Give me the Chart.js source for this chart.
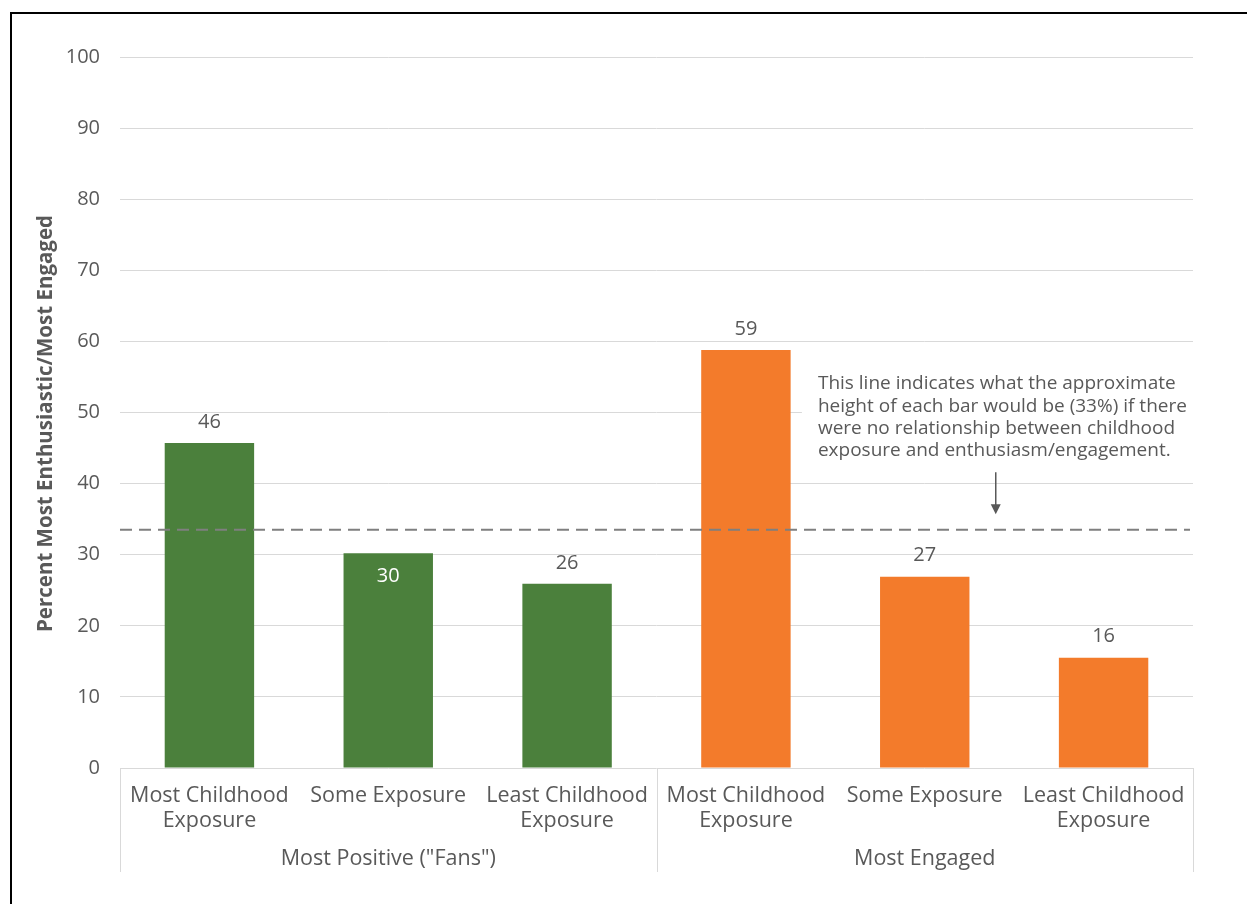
<!DOCTYPE html>
<html>
<head>
<meta charset="utf-8">
<script src="https://cdn.jsdelivr.net/npm/chart.js@4"></script>
<style>
  html, body { margin: 0; padding: 0; background: #ffffff; }
  #wrap { position: relative; width: 1247px; height: 904px; overflow: hidden; }
  #frame { position: absolute; left: 10px; top: 12px; width: 1400px; height: 1000px;
           border-left: 2px solid #000; border-top: 2px solid #000; }
  #c { position: absolute; left: 0; top: 0; }
</style>
</head>
<body>
<div id="wrap">
  <div id="frame"></div>
  <canvas id="c" width="1247" height="904"></canvas>
</div>
<script>
// ---- data ----
const categories = [
  ["Most Childhood", "Exposure"],
  ["Some Exposure"],
  ["Least Childhood", "Exposure"],
  ["Most Childhood", "Exposure"],
  ["Some Exposure"],
  ["Least Childhood", "Exposure"]
];
const groupLabels = ['Most Positive ("Fans")', 'Most Engaged'];
const barGroup = [0, 0, 0, 1, 1, 1];
const values = [45.7, 30.2, 25.9, 58.8, 26.9, 15.5];
const valueLabels = ["46", "30", "26", "59", "27", "16"];
const insideLabelIndex = [1];
const referenceValue = 33.5;
const yTicks = [0, 10, 20, 30, 40, 50, 60, 70, 80, 90, 100];
const yTitle = "Percent Most Enthusiastic/Most Engaged";
const annotationLines = [
  "This line indicates what the approximate",
  "height of each bar would be (33%) if there",
  "were no relationship between childhood",
  "exposure and enthusiasm/engagement."
];
const groupColors = ["#4B803C", "#F37B2B"];

const FONT = "'Open Sans', sans-serif";
const TEXT = "#595959";
const GRID = "#d9d9d9";

const overlay = {
  id: "overlay",
  afterDatasetsDraw(chart) {
    const ctx = chart.ctx;
    const ca = chart.chartArea;
    const y = chart.scales.y;
    const x = chart.scales.x;
    ctx.save();

    // y axis title
    ctx.save();
    ctx.translate(46, (ca.top + ca.bottom) / 2 + 11);
    ctx.rotate(-Math.PI / 2);
    ctx.fillStyle = TEXT;
    ctx.font = "bold 20.5px " + FONT;
    ctx.textAlign = "center";
    ctx.textBaseline = "middle";
    ctx.fillText(yTitle, 0, 0);
    ctx.restore();

    // annotation white box (hides gridline behind text)
    const textX = x.getPixelForValue(3) + 72;
    const firstLineY = y.getPixelForValue(54.0);
    const lh = 22.2;
    ctx.fillStyle = "#ffffff";
    ctx.fillRect(textX - 16, firstLineY - 18, ca.right - (textX - 16) + 4, lh * 4 + 10);

    // reference dashed line
    const ry = y.getPixelForValue(referenceValue);
    ctx.strokeStyle = "#7f7f7f";
    ctx.lineWidth = 2;
    ctx.setLineDash([12, 7]);
    ctx.beginPath();
    ctx.moveTo(ca.left, ry);
    ctx.lineTo(ca.right - 3, ry);
    ctx.stroke();
    ctx.setLineDash([]);

    // annotation text
    ctx.fillStyle = TEXT;
    ctx.font = "19px " + FONT;
    ctx.textAlign = "left";
    ctx.textBaseline = "middle";
    annotationLines.forEach((t, i) => ctx.fillText(t, textX, firstLineY + i * lh));

    // arrow
    const ax = x.getPixelForValue(4) + 71;
    const ay1 = y.getPixelForValue(41.6);
    const ay2 = y.getPixelForValue(35.7);
    ctx.strokeStyle = TEXT;
    ctx.lineWidth = 1.5;
    ctx.beginPath();
    ctx.moveTo(ax, ay1);
    ctx.lineTo(ax, ay2 - 8);
    ctx.stroke();
    ctx.beginPath();
    ctx.moveTo(ax - 5, ay2 - 10);
    ctx.lineTo(ax + 5, ay2 - 10);
    ctx.lineTo(ax, ay2);
    ctx.closePath();
    ctx.fill();

    // value labels
    const meta = chart.getDatasetMeta(0);
    ctx.font = "20px " + FONT;
    ctx.textAlign = "center";
    meta.data.forEach((bar, i) => {
      ctx.textBaseline = "middle";
      if (insideLabelIndex.includes(i)) {
        ctx.fillStyle = "#ffffff";
        ctx.fillText(valueLabels[i], bar.x, bar.y + 23);
      } else {
        ctx.fillStyle = TEXT;
        ctx.fillText(valueLabels[i], bar.x, bar.y - 21);
      }
    });

    // group separators on the category axis
    const x2 = chart.scales.x2;
    ctx.strokeStyle = GRID;
    ctx.lineWidth = 1;
    const seps = [ca.left, (x.getPixelForValue(2) + x.getPixelForValue(3)) / 2, ca.right];
    seps.forEach(sx => {
      const px = Math.round(sx) + 0.5;
      ctx.beginPath();
      ctx.moveTo(px, ca.bottom);
      ctx.lineTo(px, x2.top + 28);
      ctx.stroke();
    });
    ctx.restore();
  }
};

new Chart(document.getElementById("c"), {
  type: "bar",
  data: {
    labels: categories,
    datasets: [{
      data: values,
      backgroundColor: barGroup.map(g => groupColors[g]),
      borderWidth: 0,
      categoryPercentage: 1.0,
      barPercentage: 0.5
    }]
  },
  options: {
    responsive: false,
    animation: false,
    events: [],
    layout: { padding: { top: 57, right: 54, left: 0, bottom: 0 } },
    plugins: { legend: { display: false }, tooltip: { enabled: false } },
    scales: {
      y: {
        min: 0, max: 100,
        afterBuildTicks(scale) { scale.ticks = yTicks.map(v => ({ value: v })); },
        afterFit(scale) { scale.width = 120; },
        grid: { color: GRID, lineWidth: 1, drawTicks: false },
        border: { display: false },
        ticks: { color: TEXT, font: { family: FONT, size: 20 }, padding: 20 }
      },
      x: {
        weight: 0,
        afterFit(scale) { scale.height = 76; },
        grid: { display: false, drawTicks: false },
        border: { display: false },
        ticks: { color: TEXT, font: { family: FONT, size: 21.5, lineHeight: 1.16 }, padding: 15, maxRotation: 0, autoSkip: false }
      },
      x2: {
        type: "category",
        position: "bottom",
        weight: 1,
        labels: groupLabels,
        offset: true,
        afterFit(scale) { scale.height = 60; },
        grid: { display: false, drawTicks: false },
        border: { display: false },
        ticks: { color: TEXT, font: { family: FONT, size: 21.5 }, padding: 2, maxRotation: 0, autoSkip: false }
      }
    }
  },
  plugins: [overlay]
});
</script>
</body>
</html>
